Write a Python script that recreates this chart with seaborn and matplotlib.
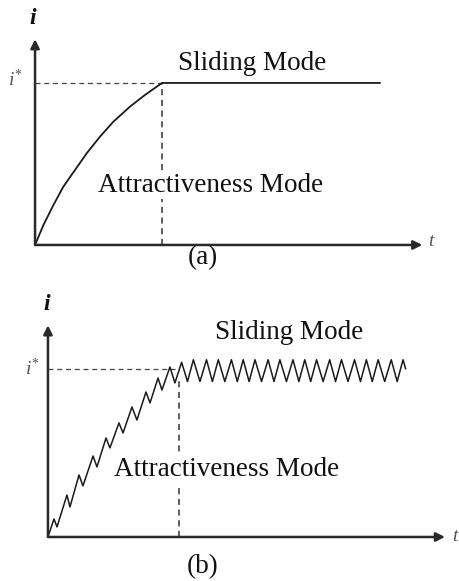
import matplotlib
matplotlib.use("Agg")
import matplotlib.pyplot as plt
import seaborn as sns
import pandas as pd

# Panel (a): ideal current, smooth rise then flat at i*
curve_t = [0.0, 0.066, 0.145, 0.223, 0.315, 0.407, 0.512, 0.617, 0.748, 0.866, 1.0, 2.717]
curve_i = [0.0, 0.123, 0.247, 0.360, 0.463, 0.566, 0.669, 0.761, 0.854, 0.926, 1.0, 1.0]

# Panel (b): chattering current, saw-tooth ramp then oscillation around i*
ramp_t = [0.0, 0.046, 0.069, 0.145, 0.168, 0.237, 0.267, 0.344, 0.374, 0.443, 0.473,
          0.542, 0.573, 0.641, 0.679, 0.748, 0.779, 0.840, 0.870, 0.931, 0.969, 1.02]
ramp_i = [0.0, 0.107, 0.060, 0.250, 0.179, 0.369, 0.304, 0.482, 0.417, 0.589, 0.530,
          0.679, 0.619, 0.774, 0.696, 0.863, 0.798, 0.946, 0.875, 1.012, 0.917, 1.04]
slide_t = [1.065, 1.11, 1.16, 1.21, 1.255, 1.30, 1.35, 1.40, 1.445, 1.49, 1.535, 1.58,
           1.63, 1.68, 1.725, 1.77, 1.82, 1.87, 1.915, 1.96, 2.005, 2.05, 2.10, 2.15,
           2.195, 2.24, 2.29, 2.34, 2.385, 2.43, 2.475, 2.52, 2.57, 2.62, 2.665, 2.71, 2.73]
slide_i = [0.925, 1.055, 0.925, 1.055, 0.925, 1.055, 0.925, 1.055, 0.925, 1.055, 0.925, 1.055,
           0.925, 1.055, 0.925, 1.055, 0.925, 1.055, 0.925, 1.055, 0.925, 1.055, 0.925, 1.055,
           0.925, 1.055, 0.925, 1.055, 0.925, 1.055, 0.925, 1.055, 0.925, 1.055, 0.925, 1.055, 1.0]

i_star = 1.0
t_switch = 1.0

sns.set_theme(style="white")
plt.rcParams["font.family"] = ["Liberation Serif", "DejaVu Serif"]
plt.rcParams["mathtext.fontset"] = "custom"
plt.rcParams["mathtext.it"] = "Liberation Serif:italic"
plt.rcParams["mathtext.rm"] = "Liberation Serif"
plt.rcParams["mathtext.bf"] = "Liberation Serif:bold:italic"

fig = plt.figure(figsize=(4.59, 5.81), dpi=100)
fig.patch.set_facecolor("white")

ax_a = fig.add_axes([0, 291 / 581, 1, 290 / 581])
ax_b = fig.add_axes([0, 0, 1, 291 / 581])
ax_a.set_xlim(-0.276, 3.339)
ax_a.set_ylim(-0.278, 1.512)
ax_b.set_xlim(-0.366, 3.137)
ax_b.set_ylim(-0.262, 1.470)

axis_col = "#2a2a2a"
line_col = "#1a1a1a"
label_col = "#555555"


def draw_frame(ax, t_end, i_top, t_dash_h, i_dash_v):
    arrow = dict(arrowstyle="-|>", mutation_scale=13, lw=1.8, color=axis_col,
                 shrinkA=0, shrinkB=0)
    ax.annotate("", xy=(t_end, 0), xytext=(0, 0), arrowprops=arrow)
    ax.annotate("", xy=(0, i_top), xytext=(0, 0), arrowprops=arrow)
    ax.plot([0, t_dash_h], [i_star, i_star], ls=(0, (4, 3)), lw=0.9, color="#444444")
    ax.plot([t_switch, t_switch], [0, i_dash_v], ls=(0, (4, 3)), lw=1.1, color="#333333")


draw_frame(ax_a, 3.05, 1.27, 1.0, 1.0)
draw_frame(ax_b, 3.03, 1.26, 0.97, 0.93)

sns.lineplot(data=pd.DataFrame({"t": curve_t, "i": curve_i}), x="t", y="i",
             sort=False, ax=ax_a, color=line_col, lw=1.3, estimator=None)
sns.lineplot(data=pd.DataFrame({"t": ramp_t + slide_t, "i": ramp_i + slide_i}), x="t", y="i",
             sort=False, ax=ax_b, color=line_col, lw=1.1, estimator=None)

ax_a.set_xlim(-0.276, 3.339)
ax_a.set_ylim(-0.278, 1.512)
ax_b.set_xlim(-0.366, 3.137)
ax_b.set_ylim(-0.262, 1.470)
for ax in (ax_a, ax_b):
    ax.axis("off")

box = dict(facecolor="white", edgecolor="none", pad=1)

# Panel (a) labels
ax_a.text(-0.016, 1.40, r"$\mathbf{i}$", fontsize=17, ha="center", va="center", color="#111111")
ax_a.text(-0.157, 1.02, r"$i^{*}$", fontsize=14, ha="center", va="center", color=label_col)
ax_a.text(3.126, 0.02, r"$t$", fontsize=14, ha="center", va="center", color=label_col)
ax_a.text(1.709, 1.123, "Sliding Mode", fontsize=19.5, ha="center", va="center", color="#111111")
ax_a.text(1.386, 0.370, "Attractiveness Mode", fontsize=19.5, ha="center", va="center",
          color="#111111", bbox=box)
ax_a.text(1.323, -0.080, "(a)", fontsize=19.5, ha="center", va="center", color="#111111")

# Panel (b) labels
ax_b.text(-0.008, 1.381, r"$\mathbf{i}$", fontsize=17, ha="center", va="center", color="#111111")
ax_b.text(-0.122, 1.0, r"$i^{*}$", fontsize=14, ha="center", va="center", color=label_col)
ax_b.text(3.115, 0.0, r"$t$", fontsize=14, ha="center", va="center", color=label_col)
ax_b.text(1.84, 1.22, "Sliding Mode", fontsize=19.5, ha="center", va="center", color="#111111")
ax_b.text(1.366, 0.399, "Attractiveness Mode", fontsize=19.5, ha="center", va="center",
          color="#111111", bbox=box)
ax_b.text(1.183, -0.179, "(b)", fontsize=19.5, ha="center", va="center", color="#111111")

fig.savefig("out.png", dpi=100, facecolor="white")
